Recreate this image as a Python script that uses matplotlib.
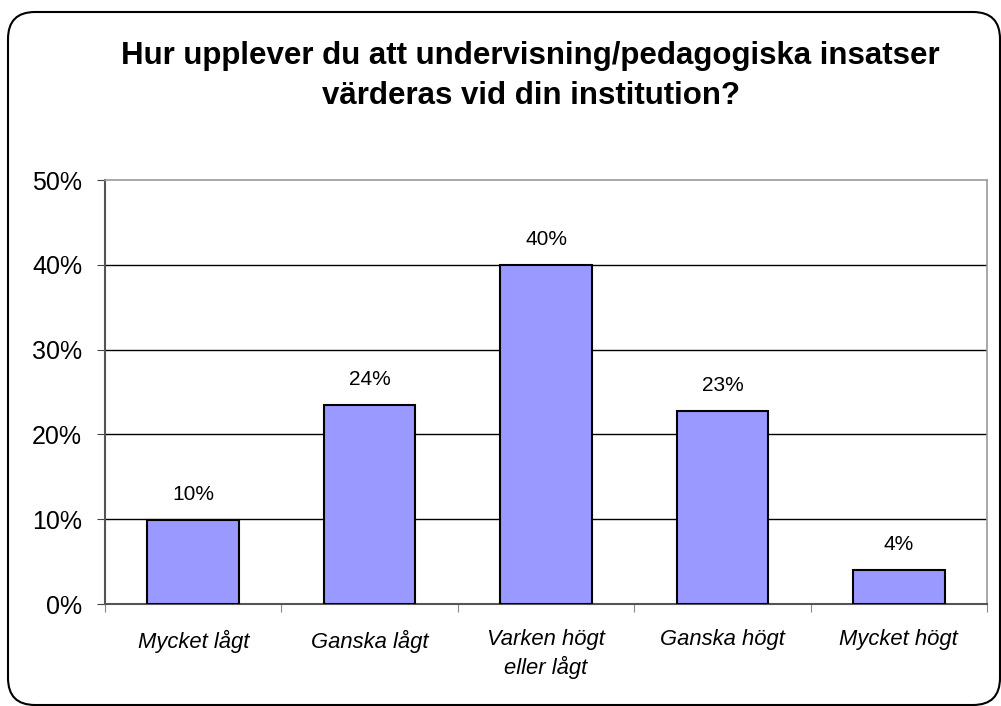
import matplotlib.pyplot as plt
from matplotlib.patches import FancyBboxPatch
from matplotlib.ticker import FuncFormatter

# data
categories = ['Mycket lågt', 'Ganska lågt', 'Varken högt\neller lågt', 'Ganska högt', 'Mycket högt']
values = [9.9, 23.5, 40.0, 22.8, 4.0]
value_labels = ['10%', '24%', '40%', '23%', '4%']
title = 'Hur upplever du att undervisning/pedagogiska insatser\nvärderas vid din institution?'

plt.rcParams['font.family'] = ['Liberation Sans', 'DejaVu Sans']

fig = plt.figure(figsize=(10.01, 7.06), dpi=100)

# rounded frame around the chart
frame = FancyBboxPatch((8 / 1001, 1 / 706), 992 / 1001, 693 / 706,
                       boxstyle='round,pad=0,rounding_size=0.027',
                       transform=fig.transFigure, facecolor='none',
                       edgecolor='black', linewidth=1.5, mutation_aspect=1001 / 706)
fig.patches.append(frame)

fig.text(0.53, 1 - 76 / 706, title, ha='center', va='center', fontsize=22.5,
         fontweight='bold', linespacing=1.4)

ax = fig.add_axes([105 / 1001, 1 - 604 / 706, 882 / 1001, 424 / 706])
x = range(len(categories))
bars = ax.bar(x, values, width=0.52, color='#9999ff', edgecolor='black', linewidth=1.5, zorder=3)

for b, lab in zip(bars, value_labels):
    ax.text(b.get_x() + b.get_width() / 2, b.get_height() + 3.0, lab,
            ha='center', va='center', fontsize=15)

ax.set_xlim(-0.5, len(categories) - 0.5)
ax.set_ylim(0, 50)
ax.set_yticks(range(0, 51, 10))
ax.yaxis.set_major_formatter(FuncFormatter(lambda v, p: f'{int(v)}%'))
ax.tick_params(axis='y', labelsize=18, length=5.5, color='#444444', pad=11)
for yv in range(10, 50, 10):
    ax.axhline(yv, color='black', linewidth=1, zorder=1)

ax.set_xticks([i + 0.5 for i in range(-1, len(categories))])
ax.set_xticklabels([])
ax.tick_params(axis='x', length=6, color='#888888')
for i, c in enumerate(categories):
    ax.text(i, -3.0, c, ha='center', va='top', fontsize=15.8, style='italic',
            linespacing=1.3)

for s in ['left', 'bottom']:
    ax.spines[s].set_color('#555555')
    ax.spines[s].set_linewidth(1.5)
for s in ['top', 'right']:
    ax.spines[s].set_color('#999999')
    ax.spines[s].set_linewidth(1.2)

fig.savefig('out.png', dpi=100)
